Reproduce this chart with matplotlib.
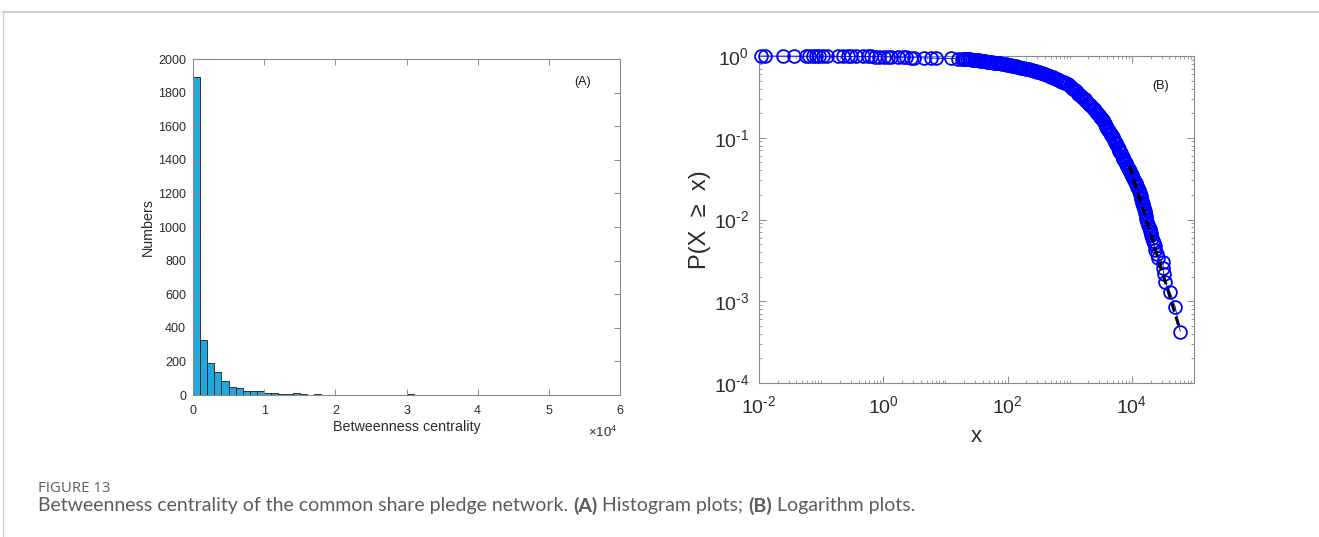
import numpy as np
import matplotlib
matplotlib.use("Agg")
import matplotlib.pyplot as plt
from matplotlib.lines import Line2D
from matplotlib.ticker import FixedLocator, FuncFormatter, LogLocator, NullFormatter

plt.rcParams['font.family'] = ['Liberation Sans', 'DejaVu Sans']
plt.rcParams['mathtext.fontset'] = 'custom'
plt.rcParams['mathtext.rm'] = 'Liberation Sans'
plt.rcParams['mathtext.it'] = 'Liberation Sans:italic'
plt.rcParams['mathtext.default'] = 'regular'
plt.rcParams['axes.unicode_minus'] = False

# ---------------- (A) histogram of betweenness centrality ----------------
bin_width = 1000
bin_counts = [1895, 327, 192, 135, 83, 50, 44, 24, 22, 26,
              14, 10, 6, 6, 12, 3, 2, 4, 2, 1,
              1, 2, 1, 1, 2, 1, 0, 0, 1, 0,
              3, 1, 0, 0, 1, 0, 0, 0, 0, 0,
              0, 0, 0, 0, 0, 0, 1, 0, 0, 0,
              0, 0, 0, 0, 0, 0, 0, 0, 1, 0]
hist_xticks = [0, 1, 2, 3, 4, 5, 6]            # in units of 1e4
hist_yticks = [0, 200, 400, 600, 800, 1000, 1200, 1400, 1600, 1800, 2000]

# ---------------- (B) complementary cumulative distribution ----------------
# well separated points at small betweenness
flat_x = [0.01076, 0.0125, 0.0244, 0.0367, 0.0573, 0.064, 0.0743, 0.083, 0.0929,
          0.1076, 0.125, 0.188, 0.226, 0.272, 0.305, 0.367, 0.475, 0.573, 0.640,
          0.743, 0.861, 1.04, 1.20, 1.35, 1.75, 2.10, 2.35, 2.83, 3.16, 4.58,
          5.94, 7.16, 12.5, 16.2]
flat_p = [1.0, 0.9996, 0.9991, 0.9987, 0.9983, 0.9979, 0.9974, 0.997, 0.9966,
          0.996, 0.9955, 0.9945, 0.9936, 0.9928, 0.992, 0.991, 0.99, 0.989, 0.988,
          0.986, 0.984, 0.981, 0.978, 0.975, 0.971, 0.967, 0.963, 0.958, 0.954, 0.948,
          0.943, 0.939, 0.935, 0.932]

# dense part of the distribution, as decade exponents (log10 x, log10 P)
band_log_x = [
    1.27, 1.30, 1.32, 1.35, 1.38, 1.40, 1.43, 1.46, 1.48, 1.51, 1.54, 1.56,
    1.59, 1.62, 1.64, 1.67, 1.70, 1.72, 1.75, 1.78, 1.80, 1.83, 1.86, 1.88,
    1.91, 1.94, 1.97, 1.99, 2.02, 2.05, 2.07, 2.10, 2.13, 2.15,
    2.18, 2.21, 2.23, 2.26, 2.29, 2.31, 2.34, 2.37, 2.39, 2.42,
    2.46, 2.48, 2.51, 2.53, 2.56, 2.58, 2.61, 2.63, 2.66, 2.68, 2.70,
    2.73, 2.75, 2.78, 2.80, 2.83, 2.85, 2.88, 2.90, 2.93, 2.95, 2.97,
    3.00, 3.02, 3.04, 3.06, 3.08, 3.10,
    3.12, 3.14, 3.16, 3.18, 3.20, 3.22, 3.24, 3.25,
    3.27, 3.29, 3.31, 3.33, 3.35, 3.37,
    3.39, 3.40, 3.42, 3.44, 3.45, 3.47, 3.49, 3.50, 3.52,
    3.53, 3.55, 3.56, 3.58, 3.59, 3.60, 3.62, 3.63, 3.65, 3.66, 3.67, 3.69, 3.70, 3.72,
    3.73, 3.74, 3.75, 3.77, 3.78, 3.79, 3.80, 3.81, 3.82, 3.84, 3.85,
    3.86, 3.87, 3.89, 3.90, 3.91, 3.92, 3.94, 3.95, 3.96, 3.97, 3.99,
    4.00, 4.01, 4.02, 4.04, 4.05, 4.06, 4.07, 4.08, 4.09, 4.11, 4.12,
    4.127, 4.134, 4.141, 4.148, 4.155, 4.162, 4.169, 4.176, 4.183, 4.19,
    4.195, 4.205, 4.215, 4.225, 4.235, 4.25, 4.262]
band_log_p = [
    -0.032, -0.034, -0.036, -0.038, -0.040, -0.042, -0.044, -0.047, -0.049, -0.052, -0.055, -0.057,
    -0.060, -0.063, -0.065, -0.068, -0.071, -0.074, -0.077, -0.080, -0.082, -0.085, -0.088, -0.090,
    -0.093, -0.097, -0.102, -0.106, -0.111, -0.115, -0.119, -0.124, -0.128, -0.133,
    -0.137, -0.142, -0.146, -0.151, -0.156, -0.160, -0.165, -0.170, -0.174, -0.178,
    -0.185, -0.191, -0.198, -0.204, -0.212, -0.218, -0.226, -0.232, -0.240, -0.246, -0.252,
    -0.262, -0.269, -0.279, -0.287, -0.297, -0.305, -0.316, -0.323, -0.334, -0.341, -0.348,
    -0.363, -0.376, -0.390, -0.403, -0.417, -0.430,
    -0.445, -0.459, -0.474, -0.489, -0.503, -0.518, -0.532, -0.540,
    -0.555, -0.570, -0.585, -0.600, -0.615, -0.630,
    -0.648, -0.660, -0.679, -0.697, -0.707, -0.725, -0.744, -0.754, -0.770,
    -0.787, -0.813, -0.826, -0.852, -0.865, -0.878, -0.904, -0.917, -0.943, -0.956, -0.969, -0.995, -1.008, -1.030,
    -1.046, -1.062, -1.079, -1.111, -1.127, -1.143, -1.159, -1.175, -1.192, -1.224, -1.240,
    -1.254, -1.269, -1.297, -1.311, -1.326, -1.340, -1.369, -1.383, -1.397, -1.411, -1.440,
    -1.456, -1.472, -1.488, -1.521, -1.537, -1.553, -1.569, -1.585, -1.601, -1.634, -1.650,
    -1.670, -1.691, -1.711, -1.732, -1.752, -1.773, -1.794, -1.814, -1.835, -1.855,
    -1.866, -1.894, -1.924, -1.956, -1.991, -2.029, -2.070]

# the largest betweenness values
tail_x = [18800, 19300, 19700, 20300, 20700, 21000, 21700, 22400, 23200, 24000,
          25000, 26500, 31500, 32000, 32300, 34400, 41500, 49900, 60100]
tail_p = [0.00809, 0.00766, 0.00723, 0.00681, 0.00638, 0.00596, 0.00553, 0.00511,
          0.00468, 0.00426, 0.00383, 0.0034, 0.00298, 0.00255, 0.00213, 0.0017,
          0.00128, 0.00085, 0.000426]

# power-law fit over the tail
fit_x = [9180, 56900]
fit_p = [0.0457, 0.000501]

# ---------------- figure ----------------
W, H = 1319, 537
fig = plt.figure(figsize=(W / 100, H / 100), dpi=100)

axis_grey = '#8a8a8a'
label_col = '#2b2b2b'


def px_box(left, top, right, bottom):
    return [left / W, 1 - bottom / H, (right - left) / W, (bottom - top) / H]


def style_axes(ax, major_len, minor_len, size):
    for s in ax.spines.values():
        s.set_color(axis_grey)
        s.set_linewidth(0.8)
    ax.tick_params(which='both', direction='in', top=True, right=True,
                   color=axis_grey, labelcolor=label_col, labelsize=size)
    ax.tick_params(which='major', length=major_len, width=0.7)
    ax.tick_params(which='minor', length=minor_len, width=0.6)


def pow10_label(v, pos):
    return r'$10^{\text{%d}}$' % round(np.log10(v))


# (A)
ax1 = fig.add_axes(px_box(193, 59, 620, 395))
counts = np.array(bin_counts)
lefts = np.arange(len(counts)) * bin_width
nz = counts > 0
ax1.bar(lefts[nz], counts[nz], width=bin_width, align='edge',
        color='#1fa9dc', edgecolor='#1a1a1a', linewidth=0.6)
ax1.set_xlim(0, 60000)
ax1.set_ylim(0, 2000)
ax1.xaxis.set_major_locator(FixedLocator([t * 1e4 for t in hist_xticks]))
ax1.xaxis.set_major_formatter(FuncFormatter(lambda v, p: f"{v / 1e4:g}"))
ax1.yaxis.set_major_locator(FixedLocator(hist_yticks))
style_axes(ax1, 4, 2, 9)
ax1.tick_params(axis='x', pad=7)
ax1.tick_params(axis='y', pad=5)
ax1.set_xlabel('Betweenness centrality', fontsize=10.3, color=label_col, labelpad=2)
ax1.set_ylabel('Numbers', fontsize=10.3, color=label_col, labelpad=2)
ax1.text(0.96, -0.11, r'$\times10^{4}$', transform=ax1.transAxes, fontsize=9.5,
         color=label_col, ha='center', va='center')
ax1.text(0.913, 0.932, '(A)', transform=ax1.transAxes, fontsize=9,
         color='#1a1a1a', ha='center', va='center')

# (B)
ax2 = fig.add_axes(px_box(759, 56, 1194, 383))
ax2.set_xscale('log')
ax2.set_yscale('log')
ccdf_x = np.concatenate([flat_x, 10.0 ** np.array(band_log_x), tail_x])
ccdf_p = np.concatenate([flat_p, 10.0 ** np.array(band_log_p), tail_p])
ax2.plot(ccdf_x, ccdf_p, '-o', color='#0000ff', mfc='none', mec='#0000ff',
         ms=9.2, mew=1.3, lw=0.6, clip_on=False, zorder=3)
ax2.plot(fit_x, fit_p, '--', color='k', lw=2.2, dashes=(3, 1.7), zorder=4)
ax2.set_xlim(1e-2, 1e5)
ax2.set_ylim(1e-4, 1)
ax2.xaxis.set_major_locator(FixedLocator([1e-2, 1e0, 1e2, 1e4]))
ax2.yaxis.set_major_locator(FixedLocator([1e-4, 1e-3, 1e-2, 1e-1, 1e0]))
ax2.xaxis.set_minor_locator(LogLocator(base=10, subs=np.arange(1, 10), numticks=50))
ax2.yaxis.set_minor_locator(LogLocator(base=10, subs=np.arange(2, 10), numticks=50))
ax2.xaxis.set_minor_formatter(NullFormatter())
ax2.yaxis.set_minor_formatter(NullFormatter())
ax2.xaxis.set_major_formatter(FuncFormatter(pow10_label))
ax2.yaxis.set_major_formatter(FuncFormatter(pow10_label))
style_axes(ax2, 5, 2.5, 14)
ax2.tick_params(axis='x', pad=9)
ax2.tick_params(axis='y', pad=7)
ax2.set_xlabel('x', fontsize=16, color=label_col, labelpad=6)
ax2.set_ylabel('P(X  ≥  x)', fontsize=17, color=label_col, labelpad=2)
ax2.text(0.922, 0.908, '(B)', transform=ax2.transAxes, fontsize=9,
         color='#1a1a1a', ha='center', va='center')

# page frame
fig.add_artist(Line2D([3 / W, 1], [1 - 12 / H, 1 - 12 / H], color='#cfcfcf', lw=1.5,
                      transform=fig.transFigure))
fig.add_artist(Line2D([3 / W, 3 / W], [0, 1 - 12 / H], color='#cfcfcf', lw=1.0,
                      transform=fig.transFigure))

# caption
cap_col = '#5c5c5c'
fig.text(38 / W, 1 - 488 / H, 'FIGURE 13', fontsize=10.8, color=cap_col,
         family=['Open Sans', 'DejaVu Sans'], va='center')
renderer = fig.canvas.get_renderer()
runs = [('Betweenness centrality of the common share pledge network. ', 'normal'),
        ('(A)', 'bold'), (' Histogram plots; ', 'normal'),
        ('(B)', 'bold'), (' Logarithm plots.', 'normal')]
x_cur = 38
for s, w in runs:
    t = fig.text(x_cur / W, 1 - 506 / H, s, fontsize=14, color=cap_col,
                 fontweight=w, family=['Lato', 'DejaVu Sans'], va='center')
    bb = t.get_window_extent(renderer)
    x_cur = bb.x1

fig.savefig('out.png', dpi=100)
